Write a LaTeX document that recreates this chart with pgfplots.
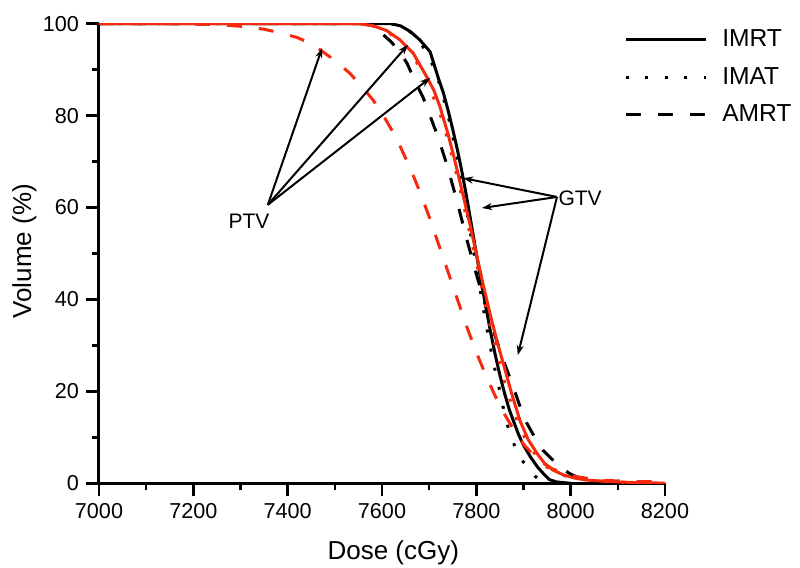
\documentclass[border=0pt]{standalone}
\usepackage{pgfplots}
\pgfplotsset{compat=1.18}
\usepackage{fontspec}
\setmainfont{Liberation Sans}
\usetikzlibrary{arrows.meta}
\definecolor{myred}{RGB}{245,42,15}
\begin{document}
\begin{tikzpicture}
\begin{axis}[
  at={(0,0)}, anchor=south west,
  scale only axis, width=283pt, height=229.8pt,
  xmin=7000, xmax=8200, ymin=0, ymax=100,
  axis x line=bottom, axis y line=left,
  axis line style={-, line width=1.5pt},
  tick align=outside,
  major tick length=6.5pt, minor tick length=3.5pt,
  every tick/.style={black, line width=1.3pt},
  xtick={7000,7200,...,8200}, ytick={0,20,...,100},
  minor x tick num=1, minor y tick num=1,
  /pgf/number format/assume math mode=true,
  /pgf/number format/set thousands separator={},
  tick label style={font=\fontsize{10.8}{12}\selectfont},
  xlabel={Dose (cGy)}, ylabel={Volume (\%)},
  xlabel style={at={(axis description cs:0.52,-0.1234)}, anchor=north, inner sep=0pt, font=\fontsize{13}{15}\selectfont},
  ylabel style={at={(axis description cs:-0.1537,0.505)}, anchor=north, rotate=0, inner sep=0pt, font=\fontsize{13}{15}\selectfont},
  legend style={draw=none, fill=none, inner sep=0pt, row sep=4.7pt, column sep=5.5pt,
    nodes={inner sep=2pt}, font=\fontsize{12.3}{14}\selectfont,
    at={(axis description cs:0.9273,0.996)}, anchor=north west},
  legend cell align=left,
  legend image code/.code={\draw[#1] (0pt,0pt) -- (40pt,0pt);},
  every axis plot/.append style={line width=1.5pt},
]
% IMRT GTV
\addplot[black, solid] coordinates {
(7000,100) (7620,100) (7640,99.5) (7660,98.3) (7680,96.5) (7702,93.9) (7720,88) (7730,85) (7740,81.2) (7750,77) (7760,72.5) (7770,67.5) (7780,62) (7790,56) (7800,50) (7810,44) (7820,38.5) (7830,33) (7840,28) (7850,23.5) (7860,19.5) (7870,16) (7880,13.2) (7890,10.5) (7900,8.3) (7915,5.7) (7930,3.5) (7945,1.8) (7955,0.8) (7970,0.3) (8000,0)
};
\addlegendentry{IMRT}
% IMAT GTV
\addplot[black, dash pattern=on 1.5pt off 8.25pt] coordinates {
(7000,100) (7620,100) (7640,99.5) (7660,98.2) (7680,96) (7700,93) (7720,87.5) (7730,84) (7740,80) (7750,75.5) (7760,70.5) (7770,65) (7780,59) (7790,53) (7800,47) (7810,41) (7820,35) (7830,29.5) (7840,24.5) (7850,20) (7860,15) (7870,11.2) (7880,8.5) (7890,6.3) (7900,4.6) (7914,2.9) (7925,1.5) (7935,0.5) (7950,0)
};
\addlegendentry{IMAT}
% AMRT GTV
\addplot[black, dash pattern=on 7.5pt off 8.5pt] coordinates {
(7000,100) (7560,100) (7580,99.5) (7596,98.2) (7620,96) (7640,93.5) (7653,91.4) (7670,87.5) (7687,84) (7700,80.5) (7720,75) (7740,68.5) (7760,61) (7780,53) (7800,45.5) (7820,38.5) (7840,32) (7860,26) (7880,20.5) (7895,16) (7907,13.1) (7925,9.8) (7941,7.2) (7962,5.1) (7980,3.3) (8000,2) (8026,0.8) (8060,0.4) (8100,0.15) (8130,0)
};
\addlegendentry{AMRT}
% IMRT PTV
\addplot[myred, solid, forget plot] coordinates {
(7000,100) (7550,100) (7580,99.6) (7610,98.5) (7638,96.5) (7666,93.6) (7695,88.4) (7710,85.5) (7723,81.9) (7740,76) (7755,70) (7770,63.5) (7785,57) (7800,50) (7815,43) (7830,36.5) (7845,30.5) (7860,25) (7875,19.5) (7893,13.5) (7910,9.5) (7930,6.3) (7945,4.3) (7962,2.9) (7985,1.8) (8010,1.1) (8034,0.7) (8070,0.45) (8100,0.3) (8150,0.1) (8200,0.05)
};
% IMAT PTV
\addplot[myred, dash pattern=on 1.5pt off 8.25pt, forget plot] coordinates {
(7000,100) (7550,100) (7580,99.5) (7610,98.3) (7638,96.2) (7666,93) (7695,87.5) (7723,80.5) (7740,74.5) (7755,68.5) (7770,62) (7785,55) (7800,48) (7815,41) (7830,34) (7845,28) (7860,22) (7875,17) (7890,12.5) (7910,8.5) (7930,5.5) (7950,3.5) (7975,2) (8000,1.3) (8040,0.7) (8100,0.3) (8150,0.1)
};
% AMRT PTV
\addplot[myred, dash pattern=on 7.5pt off 8.5pt, forget plot] coordinates {
(7000,100) (7150,100) (7250,99.8) (7305,99.4) (7350,98.8) (7384,98) (7420,97) (7447,95.8) (7469,94.3) (7500,92) (7532,89.2) (7560,86) (7581,83.4) (7600,80.5) (7620,77) (7640,73) (7660,68.5) (7680,63.5) (7700,58) (7720,52) (7740,46) (7760,40) (7780,34) (7800,28.5) (7820,23.5) (7840,19) (7860,15) (7880,11.5) (7900,8.5) (7920,6.3) (7940,4.5) (7960,3.2) (7985,2.2) (8010,1.5) (8040,1) (8080,0.6) (8130,0.4) (8200,0.3)
};
% annotations
\begin{scope}[line width=1pt, -{Stealth[length=5pt, width=3.5pt]}]
\draw (axis cs:7358,60.6) -- (axis cs:7473,94.7);
\draw (axis cs:7358,60.6) -- (axis cs:7655,95.4);
\draw (axis cs:7358,60.6) -- (axis cs:7702,88.2);
\draw (axis cs:7971,62.3) -- (axis cs:7772,66.4);
\draw (axis cs:7971,62.3) -- (axis cs:7812,59.9);
\draw (axis cs:7971,62.3) -- (axis cs:7888,27.9);
\end{scope}
\node[font=\fontsize{10.5}{12}\selectfont, inner sep=0pt] at (axis cs:7318,57.1) {PTV};
\node[font=\fontsize{10.5}{12}\selectfont, inner sep=0pt] at (axis cs:8020,62.1) {GTV};
\end{axis}
\pgfresetboundingbox
\path (-49.5pt,-42.35pt) rectangle (350.5pt,241.65pt);
\end{tikzpicture}
\end{document}
